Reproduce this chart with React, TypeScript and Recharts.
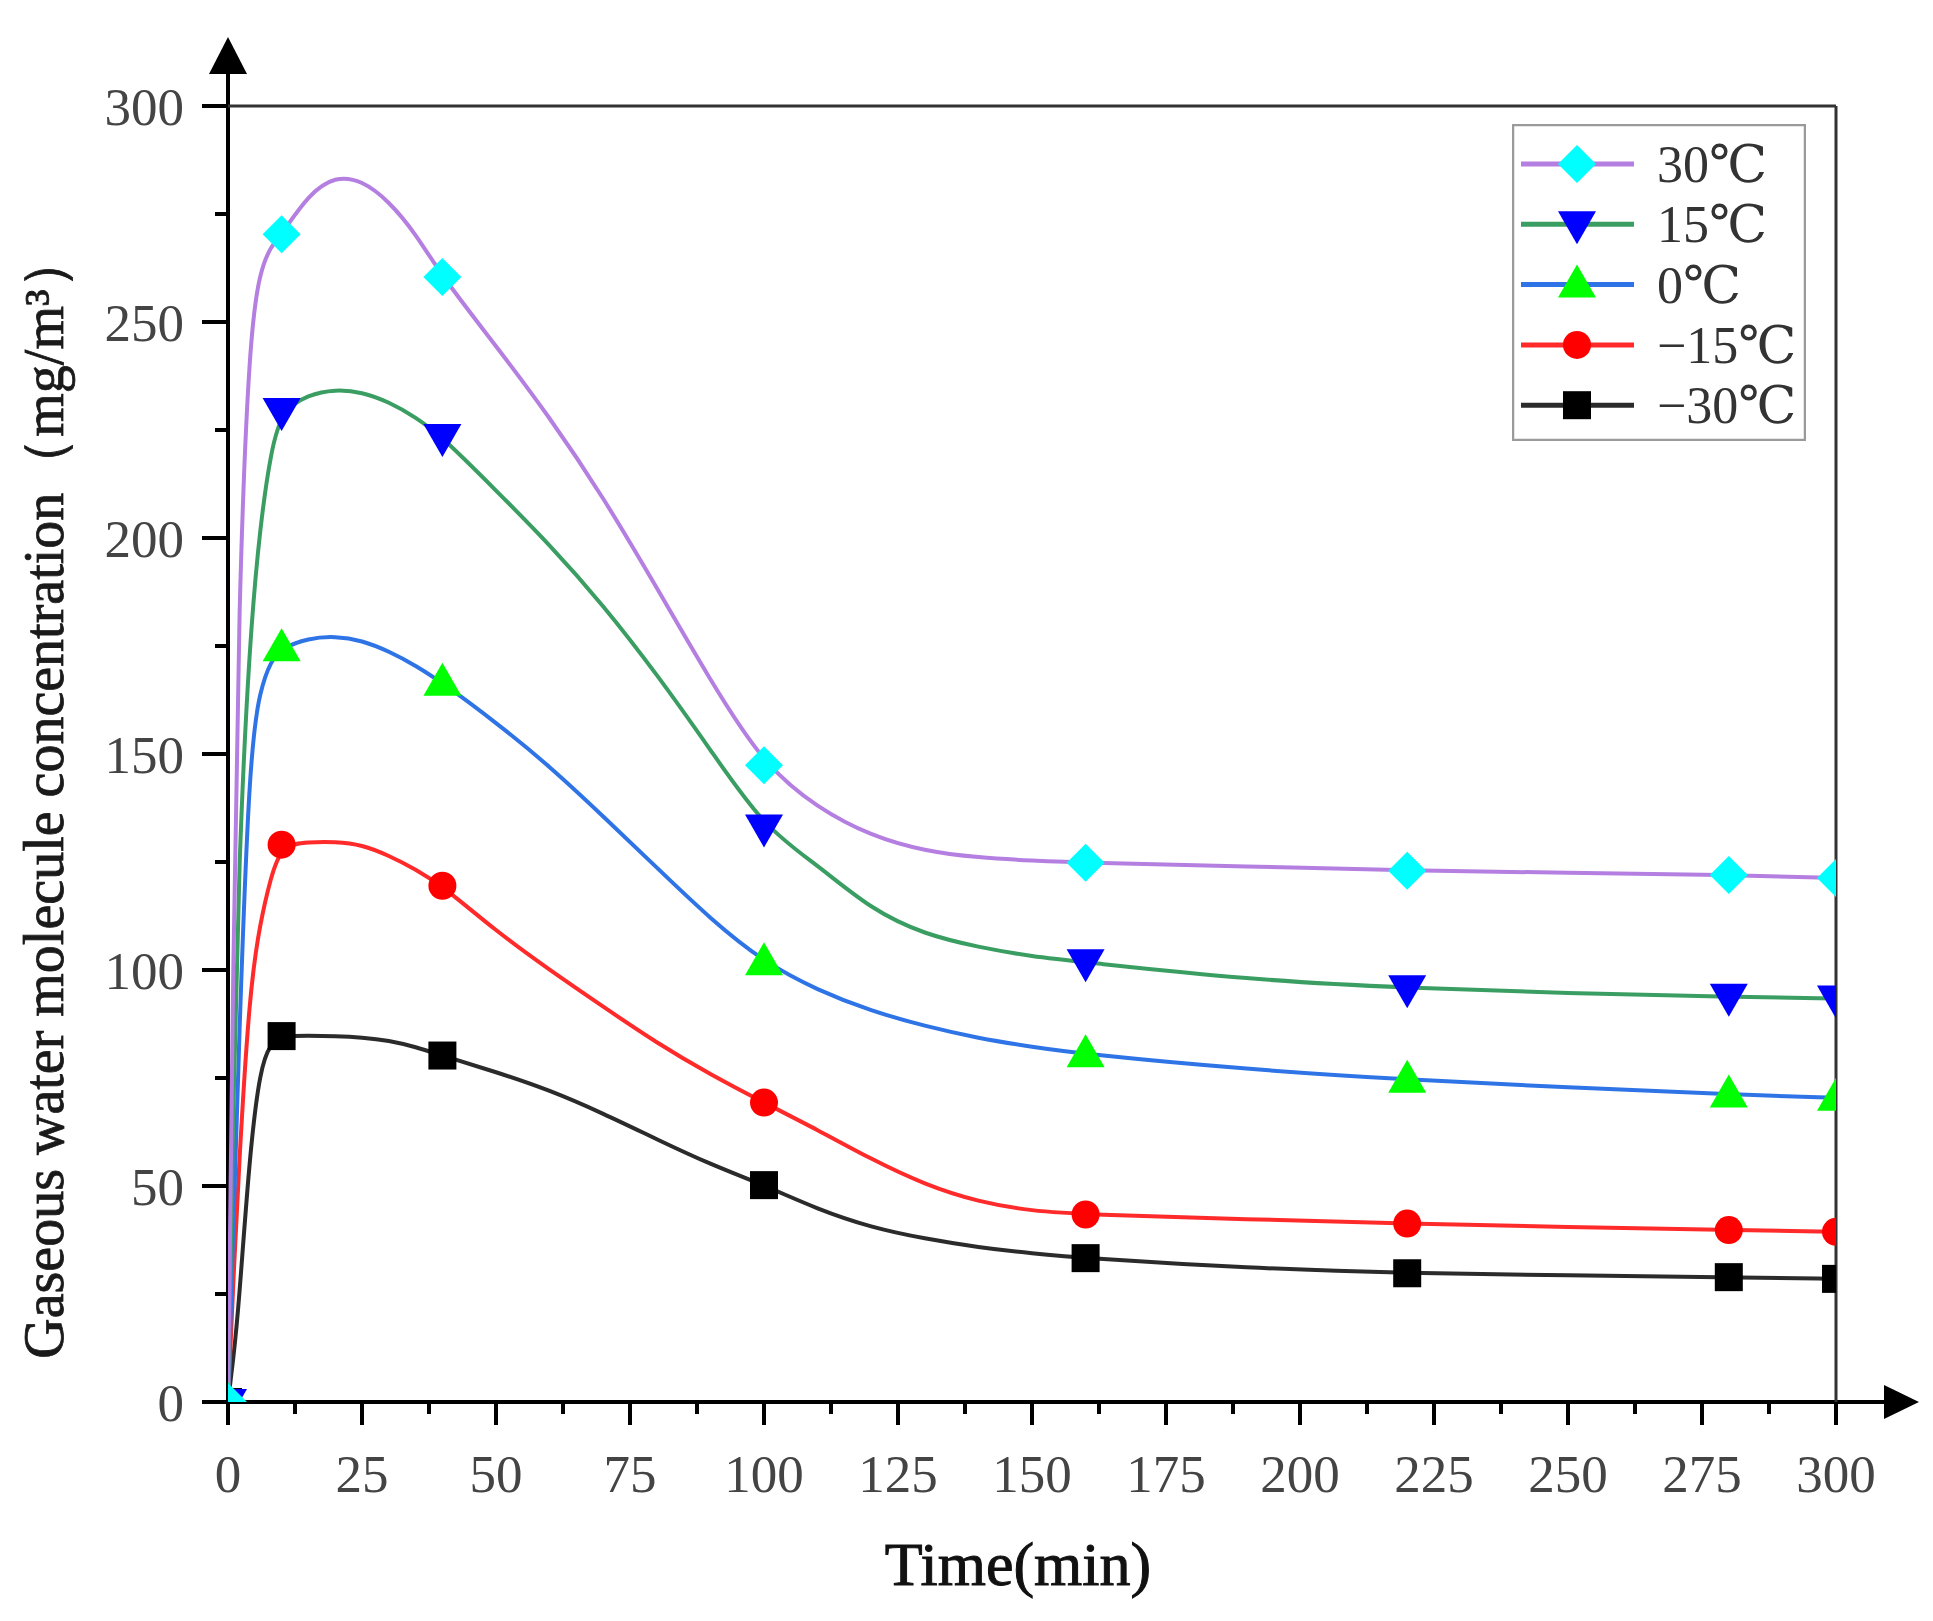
import React from 'react'
import { LineChart, Line, XAxis, YAxis, ReferenceLine, Legend } from 'recharts'

// sample times; markers only sit at MARK_T
const TIME = [0, 1, 2, 4, 6, 8, 10, 15, 20, 25, 30, 35, 40, 50, 60, 70, 80, 90, 100, 110, 120, 130, 140, 150, 160, 190, 220, 250, 280, 300]
const MARK_T = [0, 10, 40, 100, 160, 220, 280, 300]

const C30 = [0, 105, 186, 247, 262, 267.5, 270.3, 279.5, 283.8, 282.8, 278, 270.5, 260.4, 244.5, 228, 209.5, 188.5, 167, 147.4, 137.5, 131, 127.5, 126, 125.3, 124.8, 124, 123, 122.5, 122, 121.3]
const C15 = [0, 70, 125, 176, 203, 220, 229.4, 233.2, 234.4, 233.8, 231.5, 228, 223.4, 211, 198.5, 184.5, 168.5, 151, 133, 124.3, 114, 108.2, 105.3, 103.1, 101.8, 97.8, 95.8, 94.6, 93.8, 93.4]
const C0 = [0, 40, 82, 150, 165, 171.5, 174.5, 176.8, 177.3, 176.3, 173.8, 170.5, 166.5, 157.3, 147.2, 135.6, 123.7, 111.8, 101.8, 95.3, 90.5, 87, 84.2, 82.2, 80.5, 77, 74.6, 72.8, 71.2, 70.4]
const CM15 = [0, 28, 54, 95, 111, 121.5, 129, 129.6, 129.7, 129, 126.5, 123.3, 119.5, 109, 100, 91.5, 83.1, 75.8, 69.3, 63, 56.2, 50.3, 46.3, 44.2, 43.4, 42.3, 41.3, 40.5, 39.8, 39.4]
const CM30 = [0, 10, 22, 57, 77.5, 83, 84.7, 84.8, 84.7, 84.4, 83.7, 82.2, 80.2, 76.4, 72.2, 66.8, 60.8, 55, 50.2, 44.6, 40.4, 37.8, 35.8, 34.4, 33.3, 31, 29.8, 29.3, 28.9, 28.5]

const X_TICKS = [0, 12.5, 25, 37.5, 50, 62.5, 75, 87.5, 100, 112.5, 125, 137.5, 150, 162.5, 175, 187.5, 200, 212.5, 225, 237.5, 250, 262.5, 275, 287.5, 300]
const Y_TICKS = [0, 25, 50, 75, 100, 125, 150, 175, 200, 225, 250, 275, 300]

const series = [
  { key: 'm30', name: '\u221230\u2103', values: CM30, stroke: '#2b2b2b', fill: '#000000', shape: 'square' },
  { key: 'm15', name: '\u221215\u2103', values: CM15, stroke: '#ff2a2a', fill: '#ff0000', shape: 'circle' },
  { key: 'z0', name: '0\u2103', values: C0, stroke: '#2e74e6', fill: '#00ff00', shape: 'up' },
  { key: 'p15', name: '15\u2103', values: C15, stroke: '#3a9e62', fill: '#0000ff', shape: 'down' },
  { key: 'p30', name: '30\u2103', values: C30, stroke: '#b47fe0', fill: '#00ffff', shape: 'diamond' },
]

const data = TIME.map((t, i) => {
  const row: any = { t }
  series.forEach(s => { row[s.key] = s.values[i] })
  return row
})

const W = 1917
const H = 1605
const M = { top: 98, right: 89, bottom: 111, left: 100 }
const YW = 120
const XH = 100
const PL = M.left + YW
const PR = W - M.right
const PB = H - M.bottom - XH

const FONT = '"Liberation Serif", "DejaVu Serif", serif'

function Marker({ shape, cx, cy, fill }: { shape: string, cx: number, cy: number, fill: string }) {
  if (shape === 'square') return <rect x={cx - 14} y={cy - 14} width={28} height={28} fill={fill} />
  if (shape === 'circle') return <circle cx={cx} cy={cy} r={14} fill={fill} />
  if (shape === 'up') return <polygon points={`${cx},${cy - 20} ${cx + 19},${cy + 13} ${cx - 19},${cy + 13}`} fill={fill} />
  if (shape === 'down') return <polygon points={`${cx},${cy + 20} ${cx + 19},${cy - 13} ${cx - 19},${cy - 13}`} fill={fill} />
  return <polygon points={`${cx},${cy - 19} ${cx + 19},${cy} ${cx},${cy + 19} ${cx - 19},${cy}`} fill={fill} />
}

function YTick(props: any) {
  const { x, y, payload } = props
  const major = payload.value % 50 === 0
  return (
    <g>
      <line x1={x - (major ? 26 : 13)} x2={x} y1={y} y2={y} stroke="#000" strokeWidth={4} />
      {major && (
        <text x={x - 44} y={y + 19} textAnchor="end" fontSize={53} fill="#444" fontFamily={FONT}>{payload.value}</text>
      )}
    </g>
  )
}

function XTick(props: any) {
  const { x, y, payload } = props
  const major = payload.value % 25 === 0
  return (
    <g>
      <line x1={x} x2={x} y1={y} y2={y + (major ? 23 : 12)} stroke="#000" strokeWidth={4} />
      {major && (
        <text x={x} y={y + 90} textAnchor="middle" fontSize={53} fill="#444" fontFamily={FONT}>{payload.value}</text>
      )}
    </g>
  )
}

function LegendBox() {
  const rows = [...series].reverse()
  return (
    <svg width={294} height={317} style={{ display: 'block' }}>
      <rect x={1} y={1} width={292} height={315} fill="#fff" stroke="#9a9a9a" strokeWidth={2.5} />
      {rows.map((s, i) => {
        const cy = 40 + i * 60.3
        return (
          <g key={s.key}>
            <line x1={9} x2={122} y1={cy} y2={cy} stroke={s.stroke} strokeWidth={5} />
            <Marker shape={s.shape} cx={65} cy={cy} fill={s.fill} />
            <text x={145} y={cy + 18} fontSize={52} fill="#333" fontFamily={FONT}>{s.name}</text>
          </g>
        )
      })}
    </svg>
  )
}

export default function App() {
  return (
    <div style={{ width: W, height: H, position: 'relative', background: '#fff' }}>
      <LineChart width={W} height={H} data={data} margin={M}>
        <XAxis
          dataKey="t"
          type="number"
          domain={[0, 300]}
          allowDataOverflow
          ticks={X_TICKS}
          interval={0}
          height={XH}
          tickSize={0}
          tickMargin={0}
          tickLine={false}
          axisLine={false}
          tick={<XTick />}
        />
        <YAxis
          type="number"
          domain={[0, 300]}
          allowDataOverflow
          ticks={Y_TICKS}
          interval={0}
          width={YW}
          tickSize={0}
          tickMargin={0}
          tickLine={false}
          axisLine={false}
          tick={<YTick />}
        />
        <ReferenceLine y={300} stroke="#333" strokeWidth={3} />
        <ReferenceLine x={300} stroke="#333" strokeWidth={3} />
        {series.map(s => (
          <Line
            key={s.key}
            dataKey={s.key}
            name={s.name}
            type="basis"
            stroke={s.stroke}
            strokeWidth={4}
            isAnimationActive={false}
            dot={(p: any) =>
              MARK_T.includes(p.payload.t)
                ? <Marker key={`${s.key}-${p.index}`} shape={s.shape} cx={p.cx} cy={p.cy} fill={s.fill} />
                : <g key={`${s.key}-${p.index}`} />
            }
            activeDot={false}
          />
        ))}
        <Legend
          layout="horizontal"
          verticalAlign="middle"
          align="center"
          content={() => <LegendBox />}
          wrapperStyle={{ top: 116, left: 1504, width: 294, height: 317 }}
        />
        <g>
          <line x1={PL} x2={PL} y1={PB + 2} y2={50} stroke="#000" strokeWidth={4} />
          <polygon points={`${PL},${29} ${PL + 19},${66} ${PL - 19},${66}`} fill="#000" />
          <line x1={PL - 2} x2={1890} y1={PB} y2={PB} stroke="#000" strokeWidth={4} />
          <polygon points={`${1911},${PB} ${1876},${PB - 17} ${1876},${PB + 17}`} fill="#000" />
          <text
            transform={`translate(55, 788) rotate(-90)`}
            textAnchor="middle"
            fontSize={56}
            fill="#1a1a1a"
            stroke="#1a1a1a"
            strokeWidth={0.8}
            fontFamily={FONT}
          >
            Gaseous water molecule concentration（mg/m³）
          </text>
          <text
            x={(PL + PR) / 2 - 14}
            y={1577}
            textAnchor="middle"
            fontSize={62}
            fill="#111"
            stroke="#111"
            strokeWidth={1}
            fontFamily={FONT}
          >
            Time(min)
          </text>
        </g>
      </LineChart>
    </div>
  )
}
